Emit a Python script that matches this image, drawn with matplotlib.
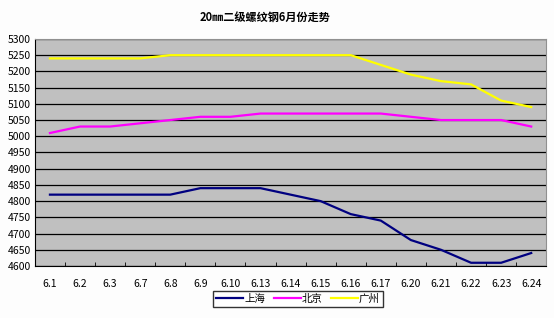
import matplotlib
matplotlib.use("Agg")
import matplotlib.pyplot as plt
import numpy as np

plt.rcParams['font.family'] = ['Noto Sans CJK SC', 'DejaVu Sans']

dates = ['6.1', '6.2', '6.3', '6.7', '6.8', '6.9', '6.10', '6.13', '6.14',
         '6.15', '6.16', '6.17', '6.20', '6.21', '6.22', '6.23', '6.24']

shanghai = [4820, 4820, 4820, 4820, 4820, 4840, 4840, 4840, 4820,
            4800, 4760, 4740, 4680, 4650, 4610, 4610, 4640]
beijing = [5010, 5030, 5030, 5040, 5050, 5060, 5060, 5070, 5070,
           5070, 5070, 5070, 5060, 5050, 5050, 5050, 5030]
guangzhou = [5240, 5240, 5240, 5240, 5250, 5250, 5250, 5250, 5250,
             5250, 5250, 5220, 5190, 5170, 5160, 5110, 5090]

yticks = list(range(4600, 5301, 50))

fig = plt.figure(figsize=(5.54, 3.18), dpi=100)
fig.patch.set_facecolor('#fdfdfd')
ax = fig.add_axes([0.063, 0.1635, 0.923, 0.714])
ax.set_facecolor('#c0c0c0')

x = np.arange(len(dates))
ax.plot(x, shanghai, color='#000080', lw=1.6, label='上海')
ax.plot(x, beijing, color='#ff00ff', lw=1.6, label='北京')
ax.plot(x, guangzhou, color='#ffff00', lw=1.6, label='广州')

ax.set_xlim(-0.5, len(dates) - 0.5)
ax.set_ylim(4600, 5300)
ax.set_yticks(yticks)
ax.set_yticklabels([str(v) for v in yticks], fontsize=7.5)
ax.set_xticks(x)
ax.set_xticklabels(dates, fontsize=7.5)
ax.set_xticks(np.arange(len(dates) + 1) - 0.5, minor=True)
ax.tick_params(axis='x', which='major', length=0, pad=9)
ax.tick_params(axis='x', which='minor', direction='in', length=3, color='black')
ax.tick_params(axis='y', length=0, pad=3)

ax.grid(axis='y', color='black', lw=0.9)
ax.set_axisbelow(True)
for s in ['top', 'right']:
    ax.spines[s].set_color('#909090')
for s in ['left', 'bottom']:
    ax.spines[s].set_color('black')

fig.text(0.478, 0.945, '20㎜二级螺纹钢6月份走势', ha='center', va='center',
         fontsize=8, fontweight='bold')

leg = fig.legend(loc='center', bbox_to_anchor=(0.538, 0.06), ncol=3,
                 fontsize=7.5, frameon=True, fancybox=False, handlelength=2.6,
                 handletextpad=0.1, columnspacing=0.8, borderpad=0.3)
leg.get_frame().set_edgecolor('black')
leg.get_frame().set_linewidth(1.0)

fig.savefig('out.png', dpi=100, facecolor=fig.get_facecolor())
